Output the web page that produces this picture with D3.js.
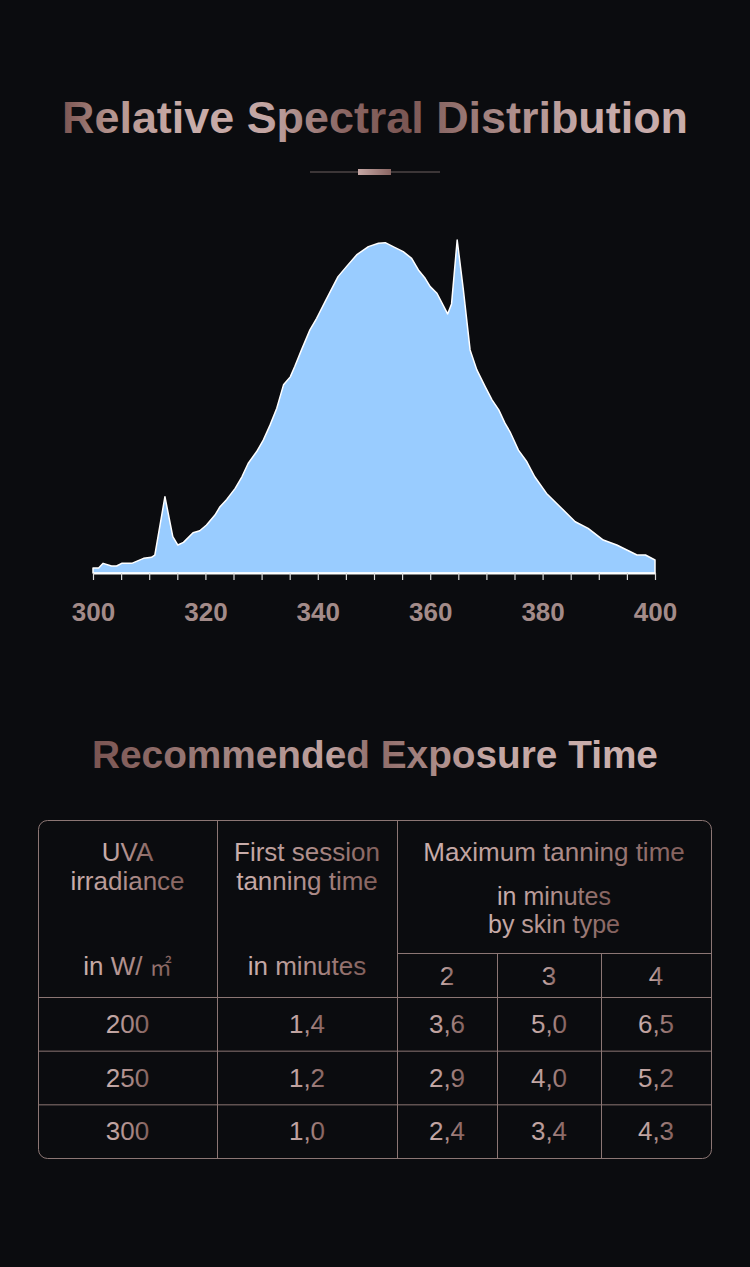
<!DOCTYPE html>
<html>
<head>
<meta charset="utf-8">
<script src="https://cdn.jsdelivr.net/npm/d3@7"></script>
<style>
html, body { margin: 0; background: #0b0c0f; }
svg { display: block; }
</style>
</head>
<body>
<svg id="canvas" width="750" height="1267"></svg>
<script>
// spectrum (nm, relative %)
let wavelengths = [300, 301, 301.8, 303.3, 304.2, 305.1, 306.9, 309, 310.4, 311, 312.8, 314.2, 315.1, 316.1, 317.8, 319, 320.2, 321.7, 322.6, 323.8, 325.3, 326.5, 327.6, 329.1, 330.3, 331.5, 332.7, 333.9, 335.1, 335.9, 337.1, 338.6, 339.8, 341.3, 343.6, 345.1, 346.9, 349, 350.8, 352, 353.4, 355.2, 356.7, 357.9, 359.1, 360, 361.2, 363.1, 363.8, 364.8, 365.9, 367.1, 368.3, 369.8, 371, 372.2, 373.3, 374.2, 375.7, 377.2, 378.6, 380.7, 383.1, 385.8, 388.1, 390.8, 393.2, 395, 396.8, 398.3, 400]
let intensity = [1.5, 1.5, 2.9, 2.1, 2.1, 2.9, 2.9, 4.4, 4.7, 5.4, 22.9, 10.9, 8.4, 9.2, 12.1, 12.7, 14.4, 17.4, 19.9, 22.1, 25.4, 28.9, 32.9, 36.4, 39.9, 44.4, 49.5, 56.5, 58.9, 62, 67, 73, 76.5, 81.5, 89, 92, 95.5, 98, 99, 99.2, 98, 96.5, 94.5, 91, 88.5, 86, 84, 77.8, 80.8, 100, 85, 67, 61, 55.9, 52, 49, 45, 42.4, 36.9, 33.4, 28.9, 23.9, 19.9, 15.4, 13.4, 9.9, 8.4, 6.9, 5.4, 5.4, 3.9]
let minorTicks = d3.range(300, 401, 5)
let labelTicks = [300, 320, 340, 360, 380, 400]

// exposure table
let irradiance = ['200', '250', '300']
let firstSession = ['1,4', '1,2', '1,0']
let skinTypes = ['2', '3', '4']
let maxTimes = [
    ['3,6', '5,0', '6,5'],
    ['2,9', '4,0', '5,2'],
    ['2,4', '3,4', '4,3']
]

let font = '"Liberation Sans", Arial, Helvetica, sans-serif'
let lineColor = '#8c7674'

let canvas = d3.select('#canvas')
canvas.append('rect').attr('width', 750).attr('height', 1267).attr('fill', '#0b0c0f')

let defs = canvas.append('defs')

function gradient(id, stops, x1, x2) {
    let g = defs.append('linearGradient').attr('id', id)
    if (x1 !== undefined) {
        g.attr('gradientUnits', 'userSpaceOnUse')
            .attr('x1', x1).attr('x2', x2).attr('y1', 0).attr('y2', 0)
    }
    g.selectAll('stop').data(stops).enter().append('stop')
        .attr('offset', d => d[0])
        .attr('stop-color', d => d[1])
}

gradient('title1', [[0, '#7a5451'], [0.08, '#b5958f'], [0.2, '#c9adaa'], [0.33, '#c2a5a2'],
    [0.45, '#8a6663'], [0.55, '#7b5653'], [0.7, '#a88986'], [0.85, '#c7abaa'], [1, '#c9adaa']], 62, 688)
gradient('title2', [[0, '#7a5451'], [0.25, '#a48683'], [0.42, '#c0a3a0'], [0.5, '#8d6a67'],
    [0.7, '#c3a6a3'], [1, '#cdb2af']], 92, 658)
gradient('cellText', [[0, '#cbb0ad'], [0.5, '#b08f8c'], [1, '#83605c']])
gradient('bar', [[0, '#c6a8a5'], [1, '#8a6663']])

function fitTitle(txt, y, width, size, fill) {
    let t = canvas.append('text')
        .attr('x', 375).attr('y', y)
        .attr('text-anchor', 'middle')
        .style('font-family', font)
        .style('font-weight', 'bold')
        .style('font-size', size + 'px')
        .attr('fill', fill)
        .text(txt)
    let len = t.node().getComputedTextLength()
    t.style('font-size', (size * width / len) + 'px')
}

fitTitle('Relative Spectral Distribution', 133, 626, 45, 'url(#title1)')
fitTitle('Recommended Exposure Time', 768, 566, 37, 'url(#title2)')

// little divider under the first title
canvas.append('line')
    .attr('x1', 310).attr('x2', 440).attr('y1', 172).attr('y2', 172)
    .attr('stroke', '#6e6160').attr('stroke-width', 1)
canvas.append('rect')
    .attr('x', 358).attr('y', 169).attr('width', 33).attr('height', 6)
    .attr('fill', 'url(#bar)')

// spectrum chart
let x = d3.scaleLinear().domain([300, 400]).range([93, 655])
let y = d3.scaleLinear().domain([0, 100]).range([573, 240])

let area = d3.area()
    .x((d, i) => x(wavelengths[i]))
    .y0(y(0))
    .y1(d => y(d))

canvas.append('path')
    .datum(intensity)
    .attr('d', area)
    .attr('fill', '#99ccff')
    .attr('stroke', '#ffffff')
    .attr('stroke-width', 1.5)
    .attr('stroke-linejoin', 'round')

let tickAxis = canvas.append('g')
    .attr('transform', 'translate(0,' + y(0) + ')')
    .call(d3.axisBottom(x).tickValues(minorTicks).tickSize(7).tickSizeOuter(0).tickFormat(''))
tickAxis.select('.domain').attr('stroke', '#ffffff').attr('stroke-width', 2)
tickAxis.selectAll('.tick line').attr('stroke', '#d8d8d8').attr('stroke-width', 1.2)

let labelAxis = canvas.append('g')
    .attr('transform', 'translate(0,' + y(0) + ')')
    .call(d3.axisBottom(x).tickValues(labelTicks).tickSize(0).tickPadding(30).tickFormat(d3.format('d')))
labelAxis.select('.domain').remove()
labelAxis.selectAll('text')
    .style('font-family', font)
    .style('font-weight', 'bold')
    .style('font-size', '26px')
    .attr('fill', '#a38b89')

// exposure table
let tableLeft = 38, tableRight = 711, tableTop = 820, tableBottom = 1158
let colEdges = [38, 217, 397, 497, 601, 711]
let headerSplit = 953, headerBottom = 997

let rowBand = d3.scaleBand().domain(irradiance).range([headerBottom, tableBottom])
let colMid = i => (colEdges[i] + colEdges[i + 1]) / 2

let table = canvas.append('g')

table.append('rect')
    .attr('x', tableLeft + 0.5).attr('y', tableTop + 0.5)
    .attr('width', tableRight - tableLeft).attr('height', tableBottom - tableTop)
    .attr('rx', 9)
    .attr('fill', 'none').attr('stroke', lineColor)

// vertical lines
table.selectAll('.vline').data([1, 2, 3, 4]).enter().append('line')
    .attr('x1', i => colEdges[i] + 0.5).attr('x2', i => colEdges[i] + 0.5)
    .attr('y1', i => i > 2 ? headerSplit : tableTop)
    .attr('y2', tableBottom)
    .attr('stroke', lineColor)

// horizontal lines
table.append('line')
    .attr('x1', colEdges[2]).attr('x2', tableRight)
    .attr('y1', headerSplit + 0.5).attr('y2', headerSplit + 0.5)
    .attr('stroke', lineColor)
table.selectAll('.hline').data(irradiance).enter().append('line')
    .attr('x1', tableLeft).attr('x2', tableRight)
    .attr('y1', d => rowBand(d) + 0.5).attr('y2', d => rowBand(d) + 0.5)
    .attr('stroke', lineColor)

function cellText(txt, cx, by, size) {
    return table.append('text')
        .attr('x', cx).attr('y', by)
        .attr('text-anchor', 'middle')
        .style('font-family', font)
        .style('font-size', (size || 26) + 'px')
        .attr('fill', 'url(#cellText)')
        .text(txt)
}

// header
cellText('UVA', colMid(0), 861)
cellText('irradiance', colMid(0), 890)
let unit = cellText('in W/ ', colMid(0), 975)
unit.append('tspan')
    .style('font-family', '"Noto Sans CJK SC", sans-serif')
    .style('font-size', '22px')
    .text('\u33a1')
cellText('First session', colMid(1), 861)
cellText('tanning time', colMid(1), 890)
cellText('in minutes', colMid(1), 975)
let groupMid = (colEdges[2] + colEdges[5]) / 2
cellText('Maximum tanning time', groupMid, 861)
cellText('in minutes', groupMid, 905, 25)
cellText('by skin type', groupMid, 933, 25)
skinTypes.forEach((s, i) => cellText(s, colMid(i + 2), 985))

// body
irradiance.forEach((r, ri) => {
    let by = rowBand(r) + rowBand.bandwidth() / 2 + 9
    cellText(r, colMid(0), by)
    cellText(firstSession[ri], colMid(1), by)
    maxTimes[ri].forEach((v, ci) => cellText(v, colMid(ci + 2), by))
})
</script>
</body>
</html>
